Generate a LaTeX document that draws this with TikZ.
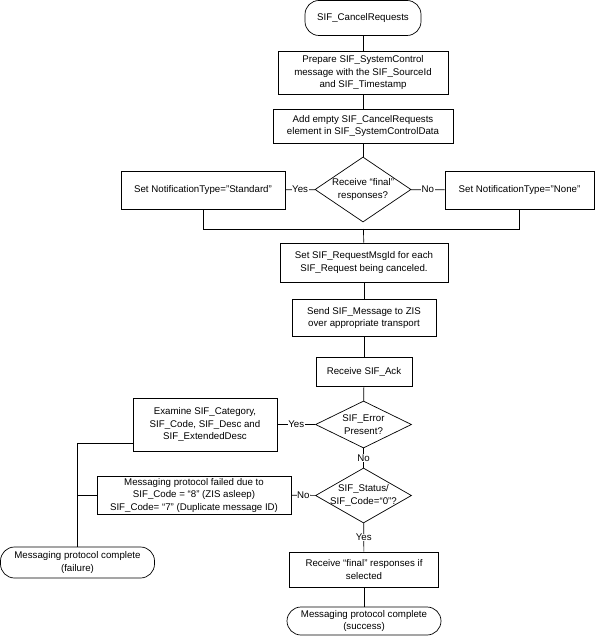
\documentclass[tikz,border=0pt]{standalone}
\usepackage{fontspec}
\setmainfont{Liberation Sans}
\usetikzlibrary{shapes.geometric}

\begin{document}
\begin{tikzpicture}[
        x=1pt, y=-1pt,
        font=\fontsize{9.7}{12.5}\selectfont,
        line width=0.7pt,
        box/.style={rectangle, draw, align=center, inner sep=1pt},
        term/.style={rectangle, rounded corners=14pt, draw, align=center, inner sep=1pt},
        decision/.style={diamond, draw, align=center, inner sep=-14pt, minimum width=96pt},
        lbl/.style={fill=white, inner sep=0.5pt, font=\fontsize{9.7}{11}\selectfont}
    ]
        \useasboundingbox (0,0) rectangle (595,636);

        % Main column
        \node[term, minimum width=116pt, minimum height=35pt] (start) at (363,18) {SIF\_CancelRequests};
        \node[box, minimum width=170pt, minimum height=43pt] (prep) at (363,72.5) {Prepare SIF\_SystemControl\\message with the SIF\_SourceId\\and SIF\_Timestamp};
        \node[box, minimum width=180pt, minimum height=34pt] (addel) at (363,126) {Add empty SIF\_CancelRequests\\element in SIF\_SystemControlData};
        \node[decision, minimum height=65pt] (final) at (363,189.5) {Receive “final”\\responses?};
        \node[box, minimum width=164pt, minimum height=38pt] (nstd) at (203,190) {Set NotificationType="Standard"};
        \node[box, minimum width=149pt, minimum height=38pt] (nnone) at (519.5,190) {Set NotificationType="None"};
        \coordinate (merge) at (363.5,229);
        \node[box, minimum width=168pt, minimum height=39pt] (msgid) at (364,262.5) {Set SIF\_RequestMsgId for each\\SIF\_Request being canceled.};
        \node[box, minimum width=144pt, minimum height=37pt] (send) at (364,318) {Send SIF\_Message to ZIS\\over appropriate transport};
        \node[box, minimum width=96pt, minimum height=29pt] (ack) at (364,371.5) {Receive SIF\_Ack};
        \node[decision, minimum height=47pt] (err) at (363.5,424.5) {SIF\_Error\\Present?};
        \node[decision, minimum height=55pt] (status) at (363.5,495.5) {SIF\_Status/\\SIF\_Code=“0”?};
        \node[box, minimum width=149pt, minimum height=35pt] (recvfin) at (364,569.5) {Receive “final” responses if\\selected};
        \node[term, minimum width=154pt, minimum height=28pt] (success) at (364,621) {Messaging protocol complete\\(success)};

        % Failure branch
        \node[box, minimum width=144pt, minimum height=53pt] (examine) at (205,424.5) {Examine SIF\_Category,\\SIF\_Code, SIF\_Desc and\\SIF\_ExtendedDesc};
        \node[box, minimum width=194pt, minimum height=38pt] (failed) at (194,495) {Messaging protocol failed due to\\SIF\_Code = “8” (ZIS asleep)\\SIF\_Code= “7” (Duplicate message ID)};
        \node[term, minimum width=154pt, minimum height=31pt] (failure) at (77.5,562.5) {Messaging protocol complete\\(failure)};

        % Connectors
        \draw (start) -- (prep);
        \draw (prep) -- (addel);
        \draw (addel) -- (final);
        \draw (final) -- node[lbl] {Yes} (nstd);
        \draw (final) -- node[lbl] {No} (nnone);
        \draw (nstd.south) |- (merge);
        \draw (nnone.south) |- (merge);
        \draw (merge) -- (msgid);
        \draw (msgid) -- (send);
        \draw (send) -- (ack);
        \draw (ack) -- (err);
        \draw (err) -- node[lbl] {Yes} (examine);
        \draw (err) -- node[lbl] {No} (status);
        \draw (status) -- node[lbl] {No} (failed);
        \draw (status) -- node[lbl] {Yes} (recvfin);
        \draw (recvfin) -- (success);
        \draw ([yshift=-18.5pt]examine.west) -| (failure.north);
        \draw (failed.west) -- (failed.west -| failure.north);
    \end{tikzpicture}
\end{document}
